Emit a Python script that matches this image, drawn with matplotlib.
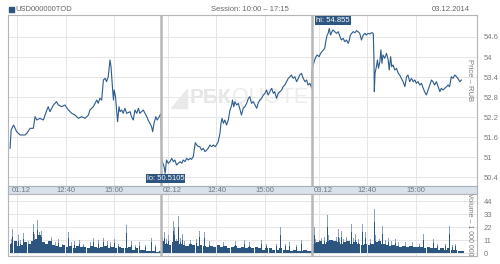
import matplotlib
matplotlib.use("Agg")
import matplotlib.pyplot as plt

plt.rcParams['font.family'] = ['Liberation Sans', 'DejaVu Sans']

# trading minutes since 10:00 for each session day, and price readings
day_len = 435
days = ['01.12', '02.12', '03.12']

d1_min = [0, 3, 10, 19, 29, 43, 48, 58, 67, 72, 77, 86, 96, 106, 110, 115, 125, 134, 139, 149,
          158, 168, 178, 187, 197, 206, 216, 226, 230, 240, 250, 254, 259, 264, 269, 274, 278, 283,
          288, 291, 295, 298, 300, 304, 307, 310, 314, 317, 322, 326, 331, 336, 346, 350, 355, 360,
          365, 370, 374, 384, 394, 398, 403, 408, 411, 415, 420, 424, 430, 435]
d1_px = [51.26, 51.81, 51.96, 51.76, 51.66, 51.66, 51.71, 51.86, 51.86, 52.21, 52.11, 52.16, 52.11,
         52.41, 52.51, 52.36, 52.56, 52.66, 52.56, 52.51, 52.56, 52.41, 52.31, 52.26, 52.16, 52.21,
         52.16, 52.26, 52.41, 52.51, 52.71, 52.61, 52.76, 52.71, 53.31, 53.36, 53.26, 53.41, 53.91,
         53.71, 53.11, 52.71, 53.01, 52.81, 52.41, 52.06, 52.51, 52.36, 52.41, 52.31, 52.46, 52.31,
         52.36, 52.21, 52.11, 52.41, 52.31, 52.46, 52.31, 52.41, 52.21, 52.11, 52.01, 51.91, 51.76,
         52.01, 52.21, 52.11, 52.21, 52.31]

d2_min = [2, 9, 12, 16, 21, 26, 31, 36, 40, 45, 50, 55, 60, 64, 69, 74, 79, 84, 88, 93, 96, 99,
          103, 108, 112, 117, 122, 127, 132, 136, 141, 146, 151, 156, 160, 165, 170, 173, 176, 180,
          184, 189, 194, 199, 204, 206, 210, 213, 218, 223, 228, 232, 237, 242, 247, 252, 256, 261,
          266, 271, 276, 280, 285, 290, 295, 300, 304, 309, 314, 319, 324, 328, 333, 338, 343, 348,
          352, 357, 362, 367, 372, 376, 381, 386, 391, 396, 400, 405, 410, 415, 420, 424, 429, 435]
d2_px = [50.91, 50.71, 50.5105, 50.91, 50.81, 50.86, 50.96, 50.86, 50.91, 50.76, 50.81, 50.86,
         50.81, 50.91, 50.86, 50.96, 50.91, 50.96, 50.93, 51.01, 51.21, 51.43, 51.36, 51.31, 51.31,
         51.21, 51.26, 51.16, 51.21, 51.26, 51.36, 51.31, 51.36, 51.31, 51.36, 51.46, 51.71, 52.01,
         52.16, 52.01, 52.11, 51.96, 52.11, 52.41, 52.56, 52.71, 52.51, 52.66, 52.56, 52.61, 52.41,
         52.26, 52.46, 52.51, 52.61, 52.76, 52.81, 52.61, 52.66, 52.56, 52.46, 52.61, 52.71, 52.76,
         52.86, 52.91, 53.01, 52.86, 52.96, 53.06, 52.91, 52.96, 52.76, 52.91, 52.96, 53.01, 53.11,
         53.16, 53.26, 53.36, 53.41, 53.46, 53.36, 53.41, 53.26, 53.36, 53.46, 53.51, 53.36, 53.26,
         53.31, 53.16, 53.21, 53.06]

d3_min = [1, 8, 12, 15, 21, 25, 29, 33, 37, 40, 44, 47, 50, 54, 58, 61, 66, 71, 76, 81, 85, 90,
          95, 100, 105, 108, 111, 115, 119, 124, 129, 133, 138, 143, 148, 153, 157, 162, 167, 172,
          177, 179, 180, 182, 186, 189, 192, 196, 199, 202, 205, 210, 215, 220, 223, 227, 230, 234,
          239, 244, 249, 253, 258, 263, 268, 273, 277, 282, 287, 292, 297, 301, 306, 311, 316, 321,
          325, 330, 335, 340, 345, 349, 354, 359, 364, 369, 373, 378, 383, 388, 393, 397, 402, 407,
          412, 417, 421, 426, 431]
d3_px = [53.66, 53.91, 54.01, 54.06, 54.01, 54.11, 54.16, 54.21, 54.26, 54.46, 54.66, 54.71,
         54.855, 54.66, 54.76, 54.81, 54.76, 54.71, 54.76, 54.61, 54.51, 54.56, 54.46, 54.51, 54.41,
         54.51, 54.66, 54.71, 54.76, 54.73, 54.79, 54.76, 54.71, 54.51, 54.66, 54.71, 54.66, 54.71,
         54.69, 54.73, 54.71, 53.91, 52.96, 53.51, 53.71, 53.91, 53.66, 53.86, 54.21, 53.81, 54.06,
         53.96, 54.11, 53.91, 53.61, 54.01, 53.71, 53.76, 53.61, 53.66, 53.51, 53.46, 53.36, 53.26,
         53.11, 53.41, 53.46, 53.26, 53.36, 53.26, 53.31, 53.21, 53.26, 53.16, 53.21, 53.06, 52.96,
         52.86, 53.01, 53.16, 53.31, 53.26, 53.16, 53.26, 53.11, 52.96, 53.06, 53.01, 53.06, 53.11,
         53.16, 53.11, 53.41, 53.36, 53.46, 53.41, 53.36, 53.26, 53.31]

# volume (mln): background level per 10 minutes, and spikes (minute, volume)
d1_base = [8, 10, 6, 7, 9, 8, 10, 12, 15, 9, 8, 10, 7, 6, 5, 7, 5, 6, 4, 6, 5, 5, 4, 6, 5, 4,
           5, 6, 4, 5, 4, 5, 4, 4, 5, 3, 4, 3, 3, 2, 2, 2, 1, 2]
d2_base = [10, 8, 7, 9, 10, 8, 7, 6, 8, 7, 6, 7, 6, 5, 6, 5, 7, 5, 6, 4, 5, 6, 4, 5, 4, 5, 4,
           5, 4, 3, 4, 4, 3, 3, 4, 3, 3, 2, 3, 2, 2, 3, 2, 2]
d3_base = [8, 9, 10, 8, 9, 11, 10, 9, 8, 9, 10, 8, 9, 8, 7, 8, 7, 8, 9, 10, 8, 7, 6, 7, 6, 5,
           6, 5, 6, 5, 5, 5, 4, 5, 4, 4, 3, 4, 3, 4, 3, 3, 2, 2]
d1_spk = [(3, 12), (8, 20), (16, 9), (24, 15), (31, 11), (38, 17), (46, 20), (53, 10), (60, 14),
          (67, 25), (71, 16), (75, 32), (79, 28), (85, 18), (91, 19), (98, 11), (109, 46),
          (112, 30), (120, 14), (130, 9), (140, 12), (152, 8), (168, 18), (176, 9), (185, 10),
          (200, 11), (211, 8), (222, 12), (231, 9), (240, 13), (255, 11), (262, 8), (269, 13),
          (280, 10), (290, 9), (300, 12), (312, 8), (336, 24), (350, 10), (362, 7), (372, 9),
          (390, 7), (408, 13), (420, 7)]
d2_spk = [(1, 35), (5, 14), (10, 18), (16, 12), (22, 15), (29, 11), (35, 27), (38, 22), (44, 12),
          (50, 31), (56, 13), (62, 16), (68, 10), (75, 14), (85, 11), (95, 24), (102, 12),
          (110, 19), (118, 10), (125, 18), (140, 10), (156, 26), (170, 13), (180, 9), (190, 12),
          (202, 9), (215, 10), (228, 8), (240, 11), (255, 9), (271, 21), (280, 9), (290, 11),
          (305, 8), (320, 10), (332, 8), (345, 22), (358, 8), (370, 9), (390, 7), (405, 11),
          (424, 11)]
d3_spk = [(3, 14), (7, 22), (11, 12), (15, 19), (22, 11), (28, 13), (36, 14), (44, 32), (48, 15),
          (52, 18), (58, 13), (64, 37), (70, 14), (76, 20), (80, 13), (85, 19), (92, 12),
          (100, 14), (107, 12), (114, 25), (120, 13), (125, 16), (135, 12), (146, 25), (150, 14),
          (155, 18), (162, 11), (170, 12), (176, 13), (180, 37), (184, 15), (188, 22), (195, 12),
          (204, 23), (212, 11), (220, 13), (230, 10), (240, 12), (250, 9), (263, 22), (270, 9),
          (280, 11), (290, 9), (300, 10), (310, 8), (321, 16), (335, 8), (350, 12), (362, 8),
          (375, 9), (385, 8), (397, 23), (405, 7), (415, 8)]

price_ticks = [50.4, 51, 51.6, 52.2, 52.8, 53.4, 54, 54.6]
vol_ticks = [0, 11, 22, 33, 44]
hi_val, lo_val = 54.855, 50.5105

line_c = '#2d5b8a'
dark_c = '#2c5580'
light_c = '#8aa4c0'
grid_c = '#e6e6e6'
text_c = '#7a7a7a'

fig = plt.figure(figsize=(5.0, 2.64), dpi=100)
L, R = 8 / 500, 477 / 500
ax = fig.add_axes([L, 1 - 186 / 264, R - L, (186 - 15) / 264])
strip = fig.add_axes([L, 1 - 194 / 264, R - L, 8 / 264])
vax = fig.add_axes([L, 1 - 256 / 264, R - L, (256 - 194) / 264])

xlim = (-6, 1346)
grid_x = []
for d in range(3):
    grid_x += [d * day_len + m for m in (20, 160, 300)]

price_x, price_y = [], []
for d, (mins, px) in enumerate([(d1_min, d1_px), (d2_min, d2_px), (d3_min, d3_px)]):
    price_x += [d * day_len + m for m in mins]
    price_y += px

# price panel
ax.plot(price_x, price_y, color=line_c, lw=0.8, zorder=3)
ax.set_xlim(*xlim)
ax.set_ylim(50.13, 55.26)
ax.set_yticks(price_ticks)
ax.set_yticklabels(['%g' % t for t in price_ticks])
ax.set_xticks(grid_x)
ax.tick_params(axis='x', length=0, labelbottom=False)
ax.yaxis.tick_right()
ax.tick_params(axis='y', length=0, labelsize=5.5, labelcolor=text_c, pad=5)
ax.grid(True, color=grid_c, lw=0.7)
ax.set_axisbelow(True)
for s in ax.spines.values():
    s.set_color('#b5b5b5')
    s.set_linewidth(0.8)

for d in (1, 2):
    ax.axvline(d * day_len, color='#b8b8b8', lw=1.8, zorder=4)
    vax.axvline(d * day_len, color='#b8b8b8', lw=1.8, zorder=4)

# watermark
fig.patches.append(plt.Polygon([(171 / 500, 1 - 108 / 264), (187 / 500, 1 - 108 / 264),
                                (187 / 500, 1 - 89 / 264)], closed=True,
                               transform=fig.transFigure, color='#e9e9e9', zorder=0.5))
ax.text(0.388, 0.52, 'РБК', transform=ax.transAxes, fontsize=15, fontweight='bold',
        color='#e6e6e6', ha='left', va='center', zorder=1)
ax.text(0.478, 0.52, 'QUOTE', transform=ax.transAxes, fontsize=15.5,
        color='#ececec', ha='left', va='center', zorder=1)

box = dict(boxstyle='square,pad=0.15', fc=dark_c, ec='none')
ax.text(2 * day_len + 12, 55.1, 'hi: %g' % hi_val, fontsize=5.5, color='white',
        ha='left', va='center', bbox=box, zorder=5)
ax.text(448, 50.355, 'lo: %g' % lo_val, fontsize=5.5, color='white',
        ha='center', va='center', bbox=box, zorder=5)
ax.text(0.985, 0.62, 'Price – RUB', transform=ax.transAxes, rotation=270,
        fontsize=5.5, color=text_c, ha='center', va='center')

# time strip
strip.set_facecolor('#d9e1ea')
strip.set_xlim(*xlim)
strip.set_ylim(0, 1)
strip.set_xticks([])
strip.set_yticks([])
for s in strip.spines.values():
    s.set_color('#a8b2bd')
    s.set_linewidth(0.8)
labels = []
for d in range(3):
    labels += [(d * day_len + 32, days[d]), (d * day_len + 160, '12:40'), (d * day_len + 300, '15:00')]
for x, lab in labels:
    strip.text(x, 0.45, lab, fontsize=5.5, color='#6f7780', ha='center', va='center')

# volume panel
for d, (base, spk) in enumerate([(d1_base, d1_spk), (d2_base, d2_spk), (d3_base, d3_spk)]):
    off = d * day_len
    vax.bar([off + 5 + 10 * i for i in range(len(base))], base, width=9, color=dark_c,
            lw=0, zorder=3)
    sx = [off + m for m, v in spk]
    sv = [v for m, v in spk]
    vax.bar(sx, sv, width=2.2, color=light_c, lw=0, zorder=2)
    vax.bar(sx, [v * 0.7 for v in sv], width=2.2, color=dark_c, lw=0, zorder=3)
vax.set_xlim(*xlim)
vax.set_ylim(-2.5, 50)
vax.set_yticks(vol_ticks)
vax.set_xticks(grid_x)
vax.tick_params(axis='x', length=0, labelbottom=False)
vax.yaxis.tick_right()
vax.tick_params(axis='y', length=0, labelsize=5.5, labelcolor=text_c, pad=5)
vax.grid(True, color=grid_c, lw=0.7)
vax.set_axisbelow(True)
for s in vax.spines.values():
    s.set_color('#b5b5b5')
    s.set_linewidth(0.8)
vax.text(0.985, 0.52, 'Volume – 1 000 000', transform=vax.transAxes, rotation=270,
         fontsize=5, color=text_c, ha='center', va='center')

# header
fig.patches.append(plt.Rectangle((9 / 500, 1 - 12 / 264), 5 / 500, 5 / 264,
                                 transform=fig.transFigure, color=dark_c))
fig.text(15 / 500, 1 - 9.5 / 264, 'USD000000TOD', fontsize=5.5, color='#666666', va='center')
fig.text(0.5, 1 - 9.5 / 264, 'Session: 10:00 – 17:15', fontsize=5.5, color='#666666',
         va='center', ha='center')
fig.text(470 / 500, 1 - 9.5 / 264, '03.12.2014', fontsize=5.5, color='#666666',
         va='center', ha='right')

fig.savefig('out.png', dpi=100)
